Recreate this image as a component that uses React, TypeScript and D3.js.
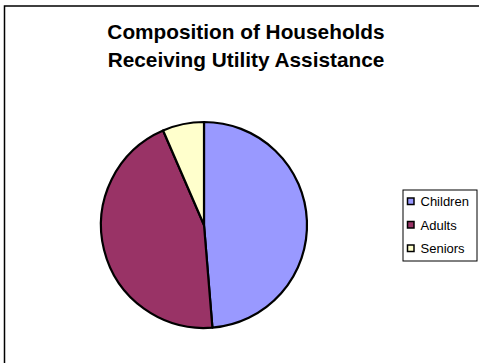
import React from "react";
import * as d3 from "d3";

const categories = ["Children", "Adults", "Seniors"];
const values = [48.7, 44.8, 6.5];
const colors = ["#9999FF", "#993366", "#FFFFCC"];
const titleLines = ["Composition of Households", "Receiving Utility Assistance"];

export default function App() {
  const W = 479, H = 363;
  const cx = 204, cy = 225, r = 103;
  const data = categories.map((c, i) => ({ c, v: values[i], col: colors[i] }));
  const pie = d3.pie<any>().value((d) => d.v).sort(null);
  const arcs = pie(data);
  const arc = d3.arc<any>().innerRadius(0).outerRadius(r);
  const font = "Arial, 'Liberation Sans', sans-serif";
  return (
    <svg width={W} height={H} style={{ position: "absolute", left: 0, top: 0, background: "#fff" }}>
      <rect x={4.5} y={6} width={W + 10} height={H + 10} fill="#fff" stroke="#000" strokeWidth={1.5} />
      {titleLines.map((t, i) => (
        <text key={i} x={246} y={39 + i * 27.5} textAnchor="middle" fontFamily={font} fontWeight="bold" fontSize={20.8} fill="#000">
          {t}
        </text>
      ))}
      <g transform={`translate(${cx},${cy})`}>
        {arcs.map((a, i) => (
          <path key={i} d={arc(a) as string} fill={a.data.col} stroke="#000" strokeWidth={2.2} strokeLinejoin="round" />
        ))}
      </g>
      <rect x={403} y={190} width={74} height={71} fill="#fff" stroke="#000" strokeWidth={1} />
      {categories.map((c, i) => (
        <g key={c} transform={`translate(0,${201.5 + i * 23.5})`}>
          <rect x={407.5} y={-3.5} width={6.5} height={6.5} fill={colors[i]} stroke="#000" strokeWidth={1.5} />
          <text x={420.5} y={4.5} fontFamily={font} fontSize={13} fill="#000">{c}</text>
        </g>
      ))}
    </svg>
  );
}
